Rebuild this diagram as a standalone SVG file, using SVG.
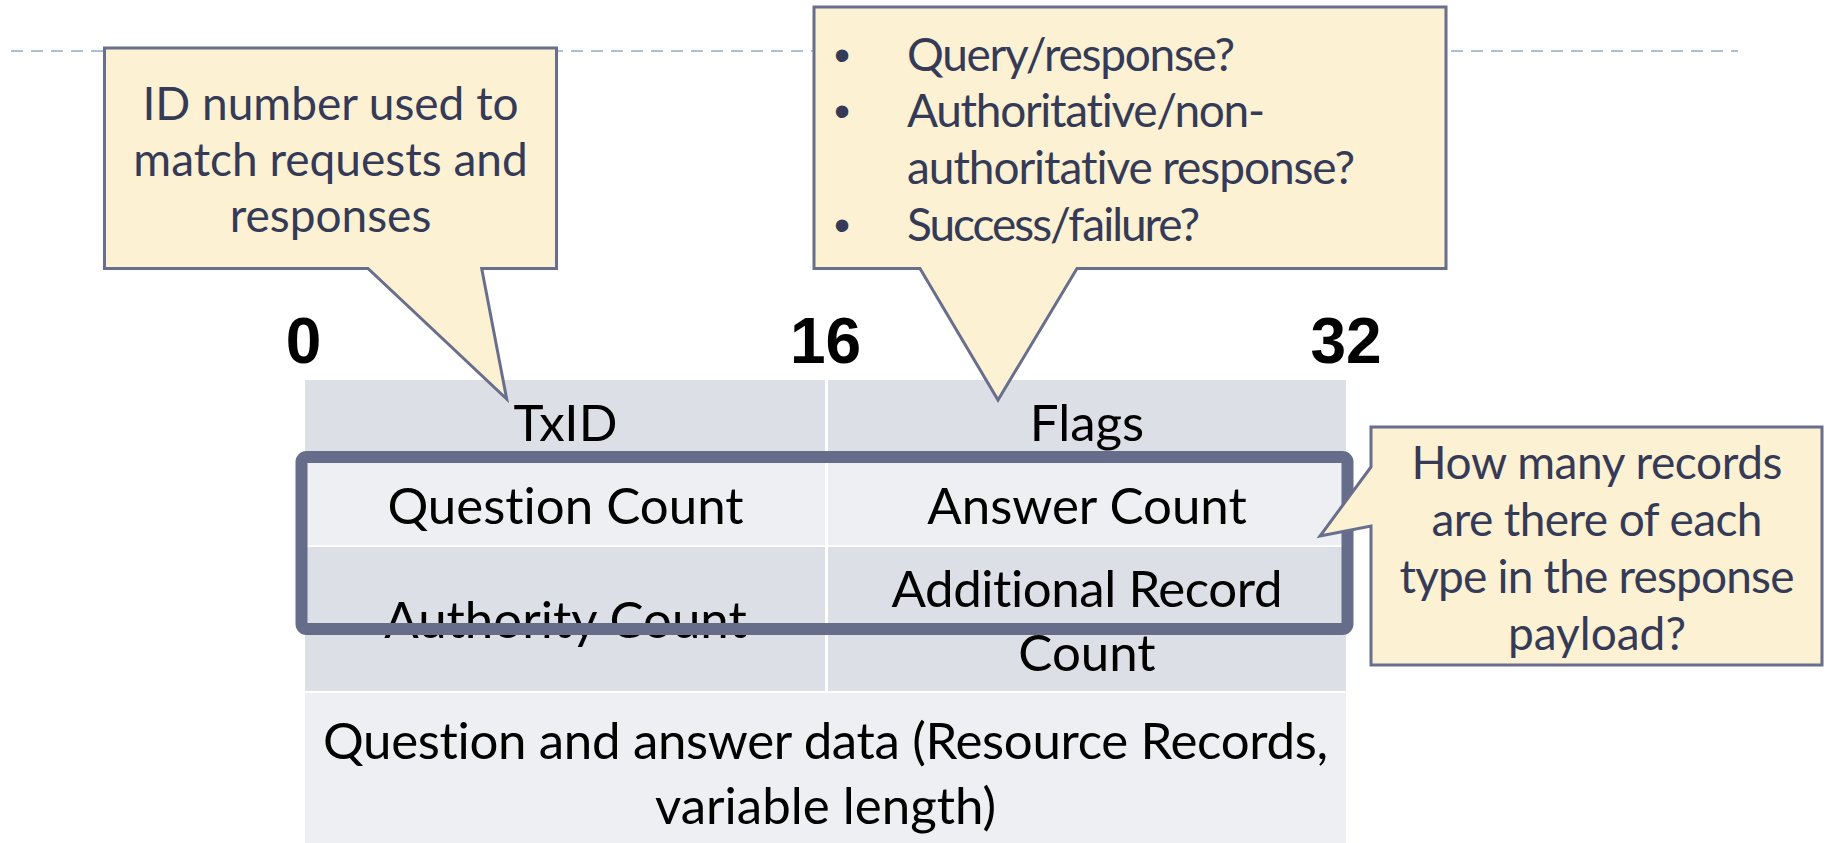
<svg xmlns="http://www.w3.org/2000/svg" width="1826" height="843" viewBox="0 0 1826 843">
  <style>
    text { font-variant-ligatures: none; font-feature-settings: "liga" 0, "clig" 0; }
    .row-dark { fill: #DCDFE6; }
    .row-light { fill: #EEEFF3; }
    .cell { font-family: Lato, "Liberation Sans", sans-serif; font-size: 51px; fill: #000000; text-anchor: middle; }
    .bits { font-family: "Liberation Sans", Arial, sans-serif; font-weight: bold; font-size: 64px; fill: #000000; text-anchor: middle; }
    .callout { fill: #FDF1D4; stroke: #686F8C; stroke-width: 3; stroke-linejoin: miter; }
    .note { font-family: Lato, "Liberation Sans", sans-serif; font-size: 46px; fill: #353B56; }
    .note-c { text-anchor: middle; }
    .bullet { font-family: "Liberation Sans", Arial, sans-serif; font-size: 46px; fill: #353B56; text-anchor: middle; }
  </style>

  <!-- slide rule -->
  <line x1="11" y1="51" x2="1738" y2="51" stroke="#A8C2D3" stroke-width="2" stroke-dasharray="12 8"/>

  <!-- bit offsets -->
  <g id="bit-offsets">
    <text class="bits" x="303.5" y="363">0</text>
    <text class="bits" x="825.5" y="363">16</text>
    <text class="bits" x="1346" y="363">32</text>
  </g>

  <!-- DNS header table -->
  <g id="header-table">
    <g id="cell-txid">
      <rect class="row-dark" x="305" y="380" width="520" height="81"/>
      <text class="cell" x="565.5" y="441">TxID</text>
    </g>
    <g id="cell-flags">
      <rect class="row-dark" x="828" y="380" width="518" height="81"/>
      <text class="cell" x="1087" y="441">Flags</text>
    </g>
    <g id="cell-question-count">
      <rect class="row-light" x="305" y="463" width="520" height="82"/>
      <text class="cell" x="565.5" y="524">Question Count</text>
    </g>
    <g id="cell-answer-count">
      <rect class="row-light" x="828" y="463" width="518" height="82"/>
      <text class="cell" x="1087" y="524">Answer Count</text>
    </g>
    <g id="cell-authority-count">
      <rect class="row-dark" x="305" y="547" width="520" height="144"/>
      <text class="cell" x="565.5" y="638">Authority Count</text>
    </g>
    <g id="cell-additional-count">
      <rect class="row-dark" x="828" y="547" width="518" height="144"/>
      <text class="cell" x="1087" y="607" textLength="391">Additional Record</text>
      <text class="cell" x="1087" y="671">Count</text>
    </g>
    <g id="cell-payload">
      <rect class="row-light" x="305" y="693" width="1041" height="160"/>
      <text class="cell" x="825.5" y="759" textLength="1005">Question and answer data (Resource Records,</text>
      <text class="cell" x="825.5" y="824">variable length)</text>
    </g>
  </g>

  <!-- highlight around the four count fields -->
  <g id="counts-highlight">
    <rect x="301.5" y="457" width="1046" height="172" rx="5" fill="none" stroke="#666D8A" stroke-width="12"/>
  </g>

  <!-- callouts -->
  <g id="callout-txid">
    <path class="callout" d="M104.5,48 H556.5 V268.5 H481.7 L506.7,399 L368,268.5 H104.5 Z"/>
    <text class="note note-c" x="330.5" y="120">ID number used to</text>
    <text class="note note-c" x="330.5" y="176">match requests and</text>
    <text class="note note-c" x="330.5" y="232">responses</text>
  </g>

  <g id="callout-flags">
    <path class="callout" d="M814,7 H1446 V268.5 H1077 L998,400 L920,268.5 H814 Z"/>
    <text class="bullet" x="842" y="71">•</text>
    <text class="note" x="907" y="71" textLength="328">Query/response?</text>
    <text class="bullet" x="842" y="127">•</text>
    <text class="note" x="907" y="127" textLength="358">Authoritative/non-</text>
    <text class="note" x="907" y="184" textLength="448">authoritative response?</text>
    <text class="bullet" x="842" y="241">•</text>
    <text class="note" x="907" y="241" textLength="293">Success/failure?</text>
  </g>

  <g id="callout-counts">
    <path class="callout" d="M1371,427 H1822 V665 H1371 V526 L1320,536 L1371,467 Z"/>
    <text class="note note-c" x="1597" y="479" textLength="371">How many records</text>
    <text class="note note-c" x="1597" y="536" textLength="331">are there of each</text>
    <text class="note note-c" x="1597" y="593" textLength="395">type in the response</text>
    <text class="note note-c" x="1597" y="650">payload?</text>
  </g>
</svg>
